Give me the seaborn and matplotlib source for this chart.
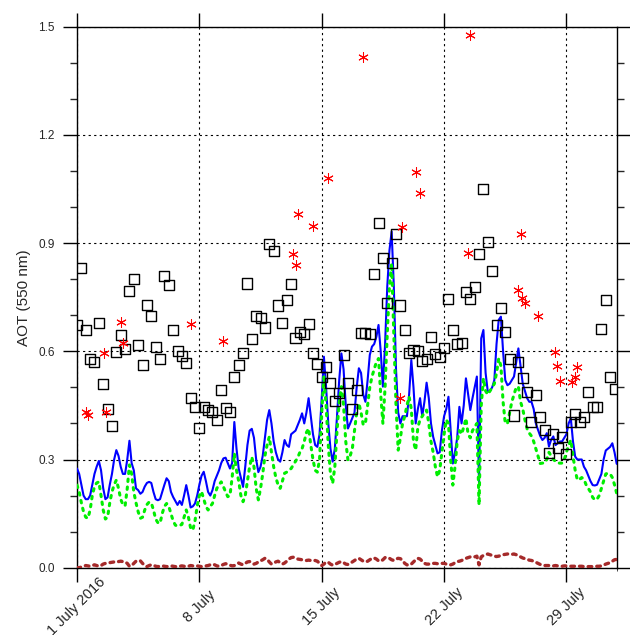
import numpy as np
import pandas as pd
import matplotlib
matplotlib.use("Agg")
import matplotlib.pyplot as plt
import matplotlib.dates as mdates
from matplotlib.ticker import MultipleLocator
import seaborn as sns

# ---------------------------------------------------------------------------
# Data: July 2016 aerosol optical thickness at 550 nm
# ---------------------------------------------------------------------------
model_start = "2016-07-01 00:00"

# model total AOT, 3-hourly (8 values per day)
aot_total = [
    0.275, 0.26, 0.23, 0.20, 0.19, 0.19, 0.20, 0.23,
    0.26, 0.28, 0.296, 0.27, 0.22, 0.19, 0.195, 0.23,
    0.26, 0.30, 0.326, 0.31, 0.28, 0.26, 0.26, 0.30,
    0.352, 0.29, 0.27, 0.22, 0.215, 0.205, 0.21, 0.225,
    0.235, 0.238, 0.235, 0.21, 0.19, 0.187, 0.19, 0.21,
    0.23, 0.248, 0.24, 0.21, 0.196, 0.185, 0.174, 0.185,
    0.174, 0.20, 0.229, 0.20, 0.167, 0.17, 0.178, 0.20,
    0.23, 0.255, 0.266, 0.24, 0.21, 0.20, 0.215, 0.24,
    0.255, 0.27, 0.29, 0.303, 0.305, 0.29, 0.275, 0.29,
    0.404, 0.33, 0.275, 0.25, 0.224, 0.28, 0.34, 0.38,
    0.385, 0.36, 0.30, 0.265, 0.28, 0.31, 0.36, 0.41,
    0.437, 0.40, 0.35, 0.32, 0.30, 0.294, 0.32, 0.354,
    0.34, 0.335, 0.37, 0.375, 0.38, 0.395, 0.41, 0.428,
    0.40, 0.43, 0.47, 0.42, 0.37, 0.34, 0.335, 0.37,
    0.47, 0.585, 0.50, 0.40, 0.33, 0.294, 0.33, 0.42,
    0.52, 0.594, 0.55, 0.45, 0.386, 0.40, 0.415, 0.43,
    0.50, 0.553, 0.54, 0.48, 0.46, 0.52, 0.59, 0.613,
    0.62, 0.64, 0.673, 0.60, 0.502, 0.62, 0.78, 0.88,
    0.932, 0.78, 0.55, 0.43, 0.40, 0.42, 0.42, 0.42,
    0.48, 0.576, 0.50, 0.40, 0.44, 0.47, 0.42, 0.46,
    0.513, 0.47, 0.40, 0.363, 0.34, 0.317, 0.32, 0.38,
    0.42, 0.44, 0.474, 0.38, 0.289, 0.32, 0.36, 0.446,
    0.40, 0.45, 0.525, 0.48, 0.437, 0.47, 0.50, 0.53,
    0.234, 0.636, 0.659, 0.54, 0.488, 0.49, 0.50, 0.52,
    0.62, 0.687, 0.696, 0.60, 0.52, 0.506, 0.51, 0.52,
    0.53, 0.57, 0.608, 0.56, 0.51, 0.49, 0.47, 0.46,
    0.46, 0.44, 0.40, 0.382, 0.365, 0.354, 0.36, 0.373,
    0.336, 0.355, 0.364, 0.34, 0.345, 0.35, 0.35, 0.36,
    0.37, 0.40, 0.414, 0.35, 0.308, 0.30, 0.30, 0.30,
    0.28, 0.27, 0.255, 0.24, 0.229, 0.228, 0.23, 0.245,
    0.26, 0.30, 0.325, 0.33, 0.335, 0.345, 0.32, 0.288,
]

# model fine-mode AOT, 3-hourly
aot_fine = [
    0.229, 0.21, 0.18, 0.155, 0.14, 0.137, 0.16, 0.20,
    0.225, 0.235, 0.238, 0.20, 0.16, 0.135, 0.14, 0.18,
    0.21, 0.23, 0.243, 0.22, 0.19, 0.175, 0.171, 0.22,
    0.285, 0.26, 0.21, 0.18, 0.155, 0.137, 0.14, 0.16,
    0.175, 0.182, 0.18, 0.16, 0.135, 0.125, 0.123, 0.15,
    0.17, 0.178, 0.17, 0.15, 0.13, 0.118, 0.115, 0.117,
    0.12, 0.14, 0.16, 0.14, 0.11, 0.104, 0.13, 0.17,
    0.20, 0.211, 0.19, 0.17, 0.16, 0.17, 0.178, 0.20,
    0.22, 0.23, 0.238, 0.225, 0.21, 0.197, 0.20, 0.25,
    0.317, 0.27, 0.24, 0.20, 0.183, 0.20, 0.24, 0.28,
    0.307, 0.28, 0.22, 0.188, 0.22, 0.26, 0.31, 0.34,
    0.363, 0.32, 0.28, 0.25, 0.23, 0.22, 0.24, 0.262,
    0.265, 0.27, 0.275, 0.285, 0.295, 0.305, 0.32, 0.33,
    0.35, 0.375, 0.386, 0.34, 0.30, 0.27, 0.265, 0.30,
    0.43, 0.53, 0.45, 0.34, 0.26, 0.234, 0.28, 0.38,
    0.46, 0.502, 0.45, 0.35, 0.299, 0.31, 0.33, 0.38,
    0.43, 0.456, 0.43, 0.396, 0.40, 0.45, 0.50, 0.53,
    0.55, 0.57, 0.58, 0.48, 0.40, 0.50, 0.65, 0.78,
    0.844, 0.65, 0.45, 0.326, 0.36, 0.40, 0.42, 0.45,
    0.474, 0.44, 0.35, 0.326, 0.39, 0.41, 0.42, 0.43,
    0.437, 0.40, 0.35, 0.32, 0.28, 0.252, 0.27, 0.32,
    0.37, 0.41, 0.40, 0.30, 0.229, 0.28, 0.35, 0.38,
    0.37, 0.39, 0.414, 0.37, 0.36, 0.38, 0.39, 0.40,
    0.174, 0.45, 0.525, 0.49, 0.48, 0.49, 0.50, 0.51,
    0.54, 0.58, 0.56, 0.46, 0.40, 0.40, 0.43, 0.46,
    0.48, 0.50, 0.502, 0.46, 0.44, 0.41, 0.385, 0.373,
    0.365, 0.35, 0.33, 0.31, 0.289, 0.29, 0.29, 0.30,
    0.32, 0.31, 0.30, 0.295, 0.29, 0.29, 0.29, 0.30,
    0.32, 0.34, 0.354, 0.31, 0.27, 0.243, 0.245, 0.25,
    0.245, 0.23, 0.22, 0.21, 0.195, 0.188, 0.19, 0.20,
    0.22, 0.24, 0.26, 0.262, 0.26, 0.25, 0.23, 0.206,
]

# model dust AOT, 3-hourly
aot_dust = [
    0.0, 0.0, 0.002, 0.004, 0.006, 0.005, 0.004, 0.006,
    0.008, 0.006, 0.004, 0.006, 0.010, 0.012, 0.013, 0.014,
    0.015, 0.016, 0.015, 0.017, 0.018, 0.017, 0.016, 0.012,
    0.004, 0.006, 0.012, 0.018, 0.020, 0.019, 0.012, 0.006,
    0.003, 0.006, 0.008, 0.007, 0.004, 0.003, 0.004, 0.005,
    0.004, 0.003, 0.004, 0.005, 0.004, 0.003, 0.003, 0.004,
    0.005, 0.004, 0.003, 0.004, 0.006, 0.005, 0.004, 0.005,
    0.004, 0.003, 0.004, 0.005, 0.006, 0.008, 0.010, 0.008,
    0.005, 0.004, 0.006, 0.009, 0.011, 0.010, 0.007, 0.005,
    0.006, 0.010, 0.013, 0.010, 0.008, 0.012, 0.016, 0.017,
    0.013, 0.010, 0.012, 0.016, 0.019, 0.022, 0.026, 0.024,
    0.016, 0.010, 0.012, 0.016, 0.018, 0.014, 0.010, 0.013,
    0.018, 0.024, 0.028, 0.029, 0.026, 0.024, 0.023, 0.022,
    0.021, 0.020, 0.021, 0.020, 0.019, 0.020, 0.018, 0.012,
    0.006, 0.010, 0.016, 0.015, 0.010, 0.007, 0.009, 0.012,
    0.015, 0.017, 0.014, 0.010, 0.009, 0.012, 0.016, 0.020,
    0.024, 0.026, 0.022, 0.018, 0.016, 0.018, 0.022, 0.026,
    0.027, 0.024, 0.019, 0.018, 0.022, 0.028, 0.029, 0.026,
    0.022, 0.020, 0.024, 0.026, 0.025, 0.020, 0.012, 0.008,
    0.007, 0.010, 0.016, 0.022, 0.026, 0.024, 0.018, 0.012,
    0.010, 0.010, 0.011, 0.012, 0.012, 0.011, 0.012, 0.012,
    0.012, 0.010, 0.008, 0.008, 0.010, 0.014, 0.017, 0.018,
    0.020, 0.023, 0.026, 0.028, 0.030, 0.029, 0.030, 0.032,
    0.008, 0.030, 0.034, 0.036, 0.038, 0.036, 0.034, 0.032,
    0.031, 0.032, 0.034, 0.036, 0.037, 0.038, 0.038, 0.037,
    0.038, 0.036, 0.033, 0.030, 0.027, 0.025, 0.023, 0.021,
    0.020, 0.018, 0.015, 0.012, 0.009, 0.007, 0.006, 0.006,
    0.006, 0.005, 0.005, 0.006, 0.005, 0.004, 0.004, 0.005,
    0.005, 0.004, 0.004, 0.004, 0.004, 0.004, 0.004, 0.004,
    0.003, 0.003, 0.003, 0.003, 0.003, 0.003, 0.004, 0.004,
    0.005, 0.007, 0.010, 0.012, 0.014, 0.018, 0.022, 0.023,
]

# ground-based (sun photometer) AOT, 6-hourly
aot_station = [
    0.673, 0.830, 0.659, 0.578,
    0.569, 0.678, 0.510, 0.441,
    0.393, 0.597, 0.645, 0.606,
    0.766, 0.800, 0.617, 0.563,
    0.729, 0.698, 0.613, 0.578,
    0.810, 0.785, 0.659, 0.601,
    0.587, 0.567, 0.471, 0.446,
    0.387, 0.445, 0.437, 0.432,
    0.409, 0.493, 0.444, 0.433,
    0.529, 0.563, 0.596, 0.788,
    0.633, 0.697, 0.691, 0.666,
    0.897, 0.879, 0.727, 0.678,
    0.741, 0.787, 0.638, 0.654,
    0.649, 0.676, 0.596, 0.564,
    0.528, 0.557, 0.512, 0.461,
    0.485, 0.590, 0.512, 0.441,
    0.493, 0.651, 0.650, 0.647,
    0.813, 0.957, 0.859, 0.733,
    0.844, 0.925, 0.727, 0.658,
    0.595, 0.603, 0.600, 0.573,
    0.578, 0.641, 0.592, 0.583,
    0.608, 0.746, 0.659, 0.620,
    0.622, 0.765, 0.744, 0.778,
    0.871, 1.049, 0.904, 0.822,
    0.672, 0.719, 0.653, 0.579,
    0.422, 0.571, 0.525, 0.488,
    0.403, 0.480, 0.417, 0.382,
    0.317, 0.370, 0.331, 0.363,
    0.315, 0.403, 0.426, 0.403,
    0.419, 0.486, 0.445, 0.445,
    0.662, 0.743, 0.530, 0.495,
]

# satellite retrievals (overpass times and AOT)
sat_times = [
    "2016-07-01 12:20", "2016-07-01 14:40", "2016-07-02 12:30", "2016-07-02 15:10",
    "2016-07-03 12:30", "2016-07-03 15:35", "2016-07-07 12:00", "2016-07-09 08:40",
    "2016-07-13 08:50", "2016-07-13 12:00", "2016-07-13 14:50", "2016-07-14 12:15",
    "2016-07-15 08:50", "2016-07-17 08:50", "2016-07-19 11:15", "2016-07-19 14:50",
    "2016-07-20 08:50", "2016-07-20 14:40", "2016-07-23 08:50", "2016-07-23 11:45",
    "2016-07-26 04:50", "2016-07-26 09:20", "2016-07-26 11:30", "2016-07-26 15:10",
    "2016-07-27 09:10", "2016-07-28 08:25", "2016-07-28 11:30", "2016-07-28 14:50",
    "2016-07-29 08:10", "2016-07-29 11:15", "2016-07-29 15:10",
]
sat_aot = [
    0.432, 0.423, 0.594, 0.432,
    0.680, 0.623, 0.676, 0.628,
    0.870, 0.839, 0.981, 0.948,
    1.080, 1.415, 0.471, 0.944,
    1.098, 1.038, 0.873, 1.478,
    0.770, 0.925, 0.747, 0.735,
    0.698, 0.599, 0.558, 0.518,
    0.514, 0.530, 0.556,
]

tick_dates = ["2016-07-01", "2016-07-08", "2016-07-15", "2016-07-22", "2016-07-29"]
tick_labels = ["1 July 2016", "8 July", "15 July", "22 July", "29 July"]
y_ticks = [0.0, 0.3, 0.6, 0.9, 1.2, 1.5]
y_tick_labels = ["0.0", "0.3", "0.6", "0.9", "1.2", "1.5"]
y_label = "AOT (550 nm)"

# ---------------------------------------------------------------------------
# Tables
# ---------------------------------------------------------------------------
model_time = pd.date_range(model_start, periods=len(aot_total), freq="3h")
model = pd.DataFrame({"time": model_time, "total": aot_total,
                      "fine": aot_fine, "dust": aot_dust})
station = pd.DataFrame({"time": pd.date_range(model_start, periods=len(aot_station), freq="6h"),
                        "aot": aot_station})
satellite = pd.DataFrame({"time": pd.to_datetime(sat_times), "aot": sat_aot})

# ---------------------------------------------------------------------------
# Figure
# ---------------------------------------------------------------------------
sns.set_style("ticks")
plt.rcParams["font.family"] = ["Liberation Sans", "DejaVu Sans"]

fig = plt.figure(figsize=(6.3, 6.35), dpi=100)
ax = fig.add_axes([77 / 630, 67.3 / 635, 539.7 / 630, 541.0 / 635])

sns.lineplot(data=model, x="time", y="dust", ax=ax, estimator=None,
             color="#a52a2a", linewidth=2.4, linestyle=(0, (1.1, 1.5)),
             dash_capstyle="round", zorder=3)
sns.lineplot(data=model, x="time", y="total", ax=ax, estimator=None,
             color="#0000ff", linewidth=1.5, zorder=3)
sns.lineplot(data=model, x="time", y="fine", ax=ax, estimator=None,
             color="#00ee00", linewidth=2.2, linestyle=(0, (0.8, 1.8)),
             dash_capstyle="round", zorder=4)
sns.scatterplot(data=station, x="time", y="aot", ax=ax, marker="s", s=52,
                facecolors="none", edgecolor="black", linewidth=1.0, zorder=5)
sns.scatterplot(data=satellite, x="time", y="aot", ax=ax, marker=(6, 2, 0), s=48,
                color="red", linewidth=0.75, zorder=6)

# axes limits and ticks
ax.set_xlim(model_time[0], model_time[-1])
ax.set_ylim(0, 1.5)
ax.set_xticks(pd.to_datetime(tick_dates))
ax.set_xticklabels(tick_labels, fontsize=10.5)
ax.set_yticks(y_ticks)
ax.set_yticklabels(y_tick_labels, fontsize=8.5)
ax.yaxis.set_minor_locator(MultipleLocator(0.1))
ax.xaxis.set_minor_locator(mdates.DayLocator(bymonthday=[40]))

for lab in ax.get_xticklabels():
    lab.set_rotation(45)
    lab.set_rotation_mode("anchor")
    lab.set_horizontalalignment("center")
    lab.set_verticalalignment("center")

ax.tick_params(axis="both", which="major", direction="out", length=10, width=1,
               color="black", top=True, right=True)
ax.tick_params(axis="y", which="minor", direction="out", length=5, width=1,
               left=True, right=True)
ax.tick_params(axis="x", which="major", pad=18)
ax.tick_params(axis="y", which="major", pad=6)

for side in ["left", "right", "top", "bottom"]:
    ax.spines[side].set_visible(True)
    ax.spines[side].set_color("black")
    ax.spines[side].set_linewidth(1.0)

ax.grid(True, which="major", color="black", linestyle=(0, (2, 3)), linewidth=0.8)
ax.set_axisbelow(True)

ax.set_xlabel("")
ax.set_ylabel(y_label, fontsize=11)
ax.yaxis.set_label_coords(-0.085, 0.5)

fig.savefig("out.png", dpi=100)
